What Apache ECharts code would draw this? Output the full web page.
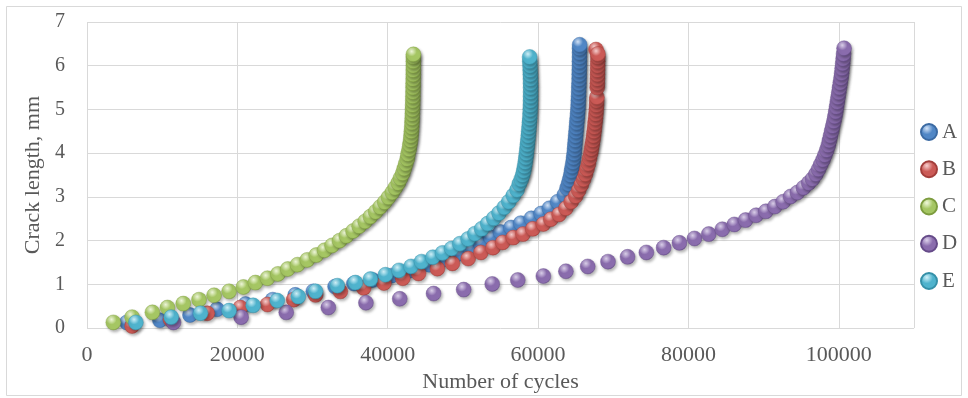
<!DOCTYPE html>
<html>
<head>
<meta charset="utf-8">
<script src="https://cdn.jsdelivr.net/npm/echarts@6/dist/echarts.min.js"></script>
<style>
  html, body { margin: 0; padding: 0; background: #ffffff; }
  #chart { width: 968px; height: 398px; }
</style>
</head>
<body>
<div id="chart"></div>
<script>
// Crack growth curves: [number of cycles, crack length in mm]
const seriesNames = ['A', 'B', 'C', 'D', 'E'];

const crackA = [
  [5300,0.13],[9700,0.18],[13700,0.30],[17300,0.43],[21100,0.55],[24700,0.65],[27700,0.76],[30100,0.84],
  [33000,0.95],[35500,1.02],[38000,1.10],[40500,1.20],[43000,1.32],[45500,1.45],[47500,1.57],[49500,1.70],
  [51000,1.82],[52300,1.95],[53700,2.08],[55000,2.20],[56400,2.30],[57700,2.40],[59100,2.51],[60400,2.62],
  [61500,2.74],[62600,2.89],[63500,3.05],[63850,3.20],[64050,3.30],[64200,3.40],[64350,3.50],[64450,3.60],
  [64550,3.70],[64650,3.80],[64730,3.90],[64800,4.00],[64850,4.10],[64900,4.20],[64950,4.30],[65000,4.40],
  [65050,4.50],[65100,4.60],[65150,4.70],[65200,4.80],[65250,4.90],[65300,5.00],[65330,5.10],[65350,5.20],
  [65380,5.30],[65400,5.40],[65420,5.50],[65440,5.60],[65460,5.70],[65470,5.80],[65480,5.90],[65500,6.00],
  [65500,6.10],[65510,6.20],[65520,6.30],[65520,6.40],[65530,6.48]
];

const crackB = [
  [6000,0.05],[11100,0.20],[16000,0.34],[20400,0.47],[24000,0.54],[27500,0.65],[30400,0.76],[33700,0.84],
  [36800,0.92],[39500,1.03],[42000,1.14],[44100,1.25],[46600,1.36],[48600,1.48],[50700,1.59],[52400,1.73],
  [54000,1.84],[55300,1.96],[56700,2.07],[58000,2.15],[59300,2.27],[60700,2.38],[61700,2.49],[62800,2.60],
  [63700,2.74],[64400,2.89],[65000,3.02],[65400,3.15],[65750,3.28],[66050,3.40],[66300,3.52],[66500,3.64],
  [66700,3.76],[66850,3.88],[67000,4.00],[67100,4.10],[67200,4.20],[67300,4.30],[67380,4.40],[67450,4.50],
  [67520,4.60],[67580,4.70],[67640,4.80],[67700,4.90],[67740,5.00],[67780,5.10],[67800,5.20],[67820,5.28],
  [67860,5.50],[67880,5.60],[67900,5.70],[67910,5.80],[67920,5.90],[67930,6.00],[67940,6.10],[67950,6.20],
  [67700,6.37],[67950,6.27]
];

const crackC = [
  [3500,0.13],[6000,0.25],[8700,0.36],[10700,0.47],[12800,0.56],[14900,0.65],[16900,0.75],[18900,0.84],
  [20800,0.94],[22400,1.04],[24000,1.14],[25400,1.24],[26700,1.35],[28000,1.45],[29300,1.56],[30500,1.67],
  [31600,1.78],[32600,1.89],[33600,2.00],[34500,2.11],[35400,2.22],[36200,2.33],[37000,2.44],[37700,2.55],
  [38400,2.66],[39000,2.77],[39600,2.88],[40100,2.99],[40600,3.10],[41000,3.21],[41400,3.32],[41700,3.43],
  [42000,3.54],[42200,3.65],[42400,3.76],[42600,3.87],[42700,3.98],[42850,4.09],[42950,4.20],[43050,4.30],
  [43100,4.40],[43150,4.50],[43200,4.60],[43230,4.70],[43260,4.80],[43280,4.90],[43300,5.00],[43320,5.10],
  [43340,5.20],[43350,5.30],[43360,5.40],[43370,5.50],[43380,5.60],[43390,5.70],[43400,5.80],[43400,5.90],
  [43410,6.00],[43410,6.10],[43410,6.20],[43420,6.26]
];

const crackD = [
  [11500,0.13],[20500,0.25],[26500,0.36],[32100,0.47],[37100,0.58],[41600,0.67],[46100,0.79],[50100,0.88],
  [53900,1.01],[57300,1.10],[60700,1.19],[63700,1.30],[66600,1.41],[69300,1.52],[71900,1.63],[74400,1.73],
  [76700,1.84],[78800,1.95],[80800,2.05],[82700,2.15],[84500,2.26],[86100,2.37],[87600,2.47],[89000,2.58],
  [90300,2.67],[91500,2.78],[92600,2.89],[93600,3.01],[94500,3.10],[95300,3.21],[96000,3.32],[96500,3.41],
  [96950,3.52],[97300,3.63],[97600,3.74],[97900,3.85],[98150,3.96],[98400,4.07],[98600,4.18],[98750,4.29],
  [98900,4.40],[99050,4.51],[99200,4.62],[99350,4.73],[99480,4.84],[99600,4.95],[99700,5.06],[99800,5.17],
  [99900,5.28],[100000,5.39],[100100,5.50],[100200,5.61],[100300,5.72],[100380,5.83],[100450,5.94],
  [100520,6.05],[100580,6.16],[100640,6.27],[100700,6.40]
];

const crackE = [
  [6500,0.13],[11200,0.25],[15100,0.34],[18900,0.40],[22100,0.52],[25300,0.63],[28100,0.72],[30400,0.84],
  [33300,0.97],[35700,1.04],[37700,1.12],[39700,1.22],[41500,1.32],[43100,1.41],[44500,1.52],[46000,1.62],
  [47300,1.72],[48500,1.82],[49600,1.93],[50700,2.04],[51600,2.16],[52500,2.27],[53300,2.39],[54100,2.51],
  [54800,2.63],[55500,2.76],[56100,2.89],[56700,3.03],[57200,3.16],[57500,3.30],[57750,3.40],[57950,3.50],
  [58100,3.60],[58200,3.70],[58300,3.80],[58380,3.90],[58450,4.00],[58520,4.10],[58580,4.20],[58640,4.30],
  [58700,4.40],[58750,4.50],[58800,4.60],[58850,4.70],[58900,4.80],[58930,4.90],[58960,5.00],[58980,5.10],
  [59000,5.20],[59000,5.30],[59010,5.40],[59010,5.50],[59000,5.60],[58990,5.70],[58970,5.80],[58950,5.90],
  [58930,6.00],[58900,6.10],[58880,6.20]
];

const xTicks = [0, 20000, 40000, 60000, 80000, 100000];
const yTicks = [0, 1, 2, 3, 4, 5, 6, 7];

// Sphere shading per series: highlight, body, rim
const palette = [
  ['#d4e4f8', '#5187c6', '#3b6aa3'],
  ['#f8d0cf', '#cb5a56', '#a33e3b'],
  ['#f1f9dc', '#a5c663', '#7d9c3f'],
  ['#ddd2ec', '#8a6cad', '#664b89'],
  ['#d2f2fa', '#4fb3cd', '#3590a8']
];

const serif = '"Liberation Serif", "DejaVu Serif", serif';
const textGrey = '#595959';
const gridGrey = '#d9d9d9';

function sphere(c) {
  return {
    type: 'radial', x: 0.38, y: 0.3, r: 0.75,
    colorStops: [
      { offset: 0, color: c[0] },
      { offset: 0.45, color: c[1] },
      { offset: 0.85, color: c[1] },
      { offset: 1, color: c[2] }
    ]
  };
}

const allData = [crackA, crackB, crackC, crackD, crackE];

const series = seriesNames.map((name, i) => ({
  name: name,
  type: 'scatter',
  data: allData[i],
  symbol: 'circle',
  symbolSize: 15,
  itemStyle: {
    color: sphere(palette[i]),
    borderColor: palette[i][2],
    borderWidth: 0.4,
    shadowColor: 'rgba(0,0,0,0.3)',
    shadowBlur: 3,
    shadowOffsetX: 1.5,
    shadowOffsetY: 2,
    opacity: 1
  },
  emphasis: { disabled: true }
}));

const chart = echarts.init(document.getElementById('chart'), null, { renderer: 'canvas' });

chart.setOption({
  animation: false,
  backgroundColor: '#ffffff',
  graphic: [{
    type: 'rect',
    shape: { x: 6.5, y: 6.5, width: 955, height: 389 },
    style: { fill: 'none', stroke: gridGrey, lineWidth: 1 },
    silent: true
  }],
  grid: { left: 87, right: 54, top: 22, bottom: 64, containLabel: false },
  legend: {
    orient: 'vertical',
    left: 915,
    top: 116.5,
    itemWidth: 16,
    itemHeight: 16,
    itemGap: 16.25,
    icon: 'circle',
    data: seriesNames,
    textStyle: { fontFamily: serif, fontSize: 21, color: textGrey, lineHeight: 21 }
  },
  xAxis: {
    type: 'value',
    min: 0,
    max: 110000,
    interval: 20000,
    name: 'Number of cycles',
    nameLocation: 'middle',
    nameGap: 46,
    nameTextStyle: { fontFamily: serif, fontSize: 22, color: textGrey, verticalAlign: 'middle' },
    axisLine: { show: false },
    axisTick: { show: false },
    axisLabel: {
      fontFamily: serif, fontSize: 22, color: textGrey, margin: 16,
      showMaxLabel: false,
      formatter: v => (xTicks.indexOf(v) >= 0 ? String(v) : '')
    },
    splitLine: { show: true, lineStyle: { color: gridGrey, width: 1 } }
  },
  yAxis: {
    type: 'value',
    min: 0,
    max: 7,
    interval: 1,
    name: 'Crack length, mm',
    nameLocation: 'middle',
    nameGap: 53,
    nameTextStyle: { fontFamily: serif, fontSize: 22, color: textGrey, verticalAlign: 'middle' },
    axisLine: { show: false },
    axisTick: { show: false },
    axisLabel: {
      fontFamily: serif, fontSize: 20, color: textGrey, margin: 22,
      padding: [3, 0, 0, 0],
      formatter: v => (yTicks.indexOf(v) >= 0 ? String(v) : '')
    },
    splitLine: { show: true, lineStyle: { color: gridGrey, width: 1 } }
  },
  series: series
});
</script>
</body>
</html>
